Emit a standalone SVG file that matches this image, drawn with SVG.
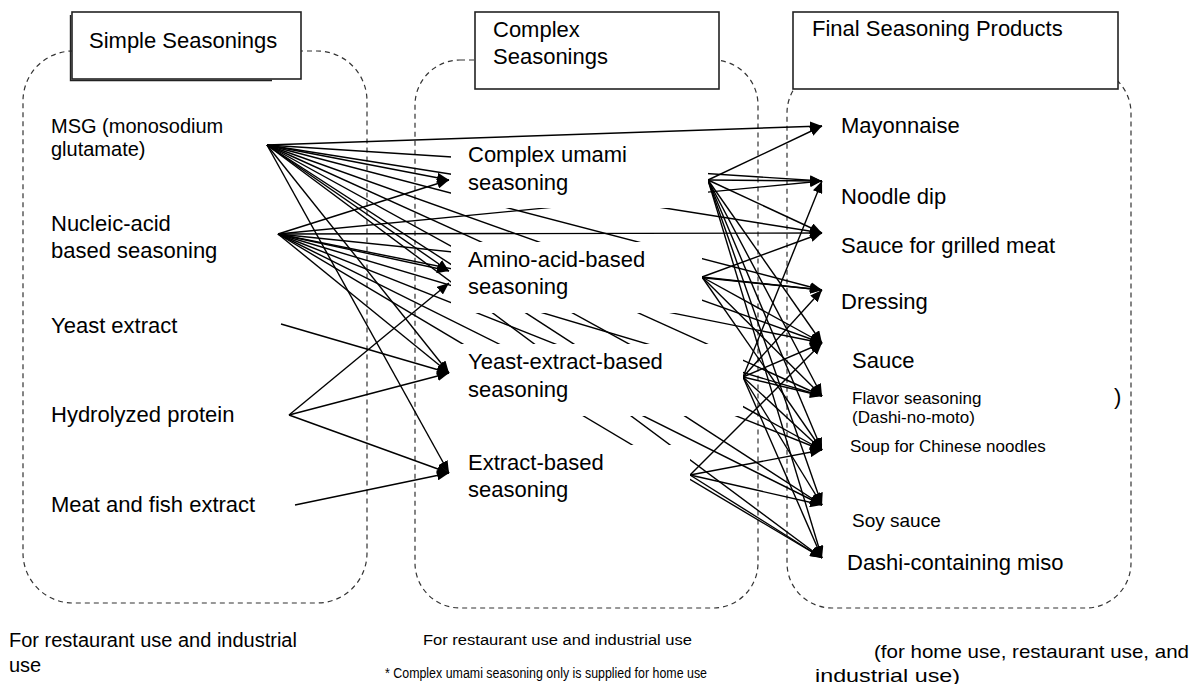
<svg xmlns="http://www.w3.org/2000/svg" width="1199" height="684" viewBox="0 0 1199 684">
<style>
text{font-family:"Liberation Sans",Arial,sans-serif;fill:#000}
.l22{font-size:22px}
.l20{font-size:20px}
.l19{font-size:19px}
.l17{font-size:17px}
.cont{fill:none;stroke:#333;stroke-width:1.2;stroke-dasharray:5 4}
.hdr{fill:#fff;stroke:#222;stroke-width:1.6}
.occ{fill:#fff;stroke:none}
#connectors line{stroke:#000;stroke-width:1.4;marker-end:url(#ah)}
</style>
<defs>
<marker id="ah" viewBox="0 0 12 10" refX="12" refY="5" markerWidth="12" markerHeight="10" markerUnits="userSpaceOnUse" orient="auto"><path d="M0,0 L12,5 L0,10 z" fill="#000"/></marker>
</defs>
<rect width="1199" height="684" fill="#fff"/>
<g id="containers">
<rect class="cont" x="23" y="51" width="344" height="552" rx="50"/>
<rect class="cont" x="415" y="60" width="343" height="548" rx="45"/>
<rect class="cont" x="787" y="68" width="344" height="540" rx="45"/>
</g>
<g id="headers">
<g id="hdr-simple"><rect class="hdr" x="72" y="12" width="229" height="67"/><path d="M70.5,15 V80.5 H272" fill="none" stroke="#222" stroke-width="1.4"/><text class="l22" x="89" y="48">Simple Seasonings</text></g>
<g id="hdr-complex"><rect class="hdr" x="475" y="12" width="244" height="77"/><text class="l22" x="493" y="37">Complex</text><text class="l22" x="493" y="64">Seasonings</text></g>
<g id="hdr-final"><rect class="hdr" x="793" y="12" width="325" height="77"/><text class="l22" x="812" y="36">Final Seasoning Products</text></g>
</g>
<g id="connectors">
<!-- MSG -->
<line x1="267" y1="145" x2="822" y2="126"/>
<line x1="267" y1="145" x2="822" y2="181"/>
<line x1="267" y1="145" x2="449" y2="180"/>
<line x1="267" y1="145" x2="822" y2="233"/>
<line x1="267" y1="145" x2="822" y2="290"/>
<line x1="267" y1="145" x2="822" y2="343"/>
<line x1="267" y1="145" x2="822" y2="396"/>
<line x1="267" y1="145" x2="822" y2="450"/>
<line x1="267" y1="145" x2="822" y2="505"/>
<line x1="267" y1="145" x2="822" y2="558"/>
<line x1="267" y1="145" x2="449" y2="271"/>
<line x1="267" y1="145" x2="449" y2="373"/>
<line x1="267" y1="145" x2="449" y2="473"/>
<!-- Nucleic -->
<line x1="278" y1="234" x2="449" y2="180"/>
<line x1="278" y1="234" x2="822" y2="181"/>
<line x1="278" y1="234" x2="822" y2="233"/>
<line x1="278" y1="234" x2="449" y2="271"/>
<line x1="278" y1="234" x2="822" y2="290"/>
<line x1="278" y1="234" x2="822" y2="343"/>
<line x1="278" y1="234" x2="822" y2="396"/>
<line x1="278" y1="234" x2="822" y2="450"/>
<line x1="278" y1="234" x2="822" y2="505"/>
<line x1="278" y1="234" x2="822" y2="558"/>
<line x1="278" y1="234" x2="449" y2="373"/>
<!-- Yeast extract / Hydrolyzed / Meat -->
<line x1="281" y1="324" x2="449" y2="373"/>
<line x1="289" y1="415" x2="449" y2="283"/>
<line x1="289" y1="415" x2="449" y2="373"/>
<line x1="289" y1="415" x2="449" y2="473"/>
<line x1="295" y1="505" x2="449" y2="473"/>
<!-- Complex umami -->
<line x1="708" y1="180" x2="822" y2="126"/>
<line x1="708" y1="180" x2="822" y2="181"/>
<line x1="708" y1="180" x2="822" y2="233"/>
<line x1="708" y1="180" x2="822" y2="343"/>
<line x1="708" y1="180" x2="822" y2="396"/>
<line x1="708" y1="180" x2="822" y2="450"/>
<line x1="708" y1="180" x2="822" y2="505"/>
<line x1="708" y1="180" x2="822" y2="558"/>
<!-- Amino -->
<line x1="702" y1="277" x2="822" y2="233"/>
<line x1="702" y1="277" x2="822" y2="290"/>
<line x1="702" y1="277" x2="822" y2="343"/>
<line x1="702" y1="277" x2="822" y2="396"/>
<line x1="702" y1="277" x2="822" y2="450"/>
<!-- Yeast-extract-based -->
<line x1="743" y1="377" x2="822" y2="181"/>
<line x1="743" y1="377" x2="822" y2="290"/>
<line x1="743" y1="377" x2="822" y2="343"/>
<line x1="743" y1="377" x2="822" y2="396"/>
<line x1="743" y1="377" x2="822" y2="450"/>
<line x1="743" y1="377" x2="822" y2="505"/>
<line x1="743" y1="377" x2="822" y2="558"/>
<!-- Extract-based -->
<line x1="690" y1="475" x2="822" y2="343"/>
<line x1="690" y1="475" x2="822" y2="450"/>
<line x1="690" y1="475" x2="822" y2="505"/>
<line x1="690" y1="475" x2="822" y2="558"/>
</g>
<g id="simple-nodes">
<g id="n-msg"><text class="l20" x="51" y="133">MSG (monosodium</text><text class="l20" x="51" y="156">glutamate)</text></g>
<g id="n-nucleic"><text class="l22" x="51" y="231">Nucleic-acid</text><text class="l22" x="51" y="258">based seasoning</text></g>
<g id="n-yeast"><text class="l22" x="51" y="333">Yeast extract</text></g>
<g id="n-hydro"><text class="l22" x="51" y="422">Hydrolyzed protein</text></g>
<g id="n-meat"><text class="l22" x="51" y="512">Meat and fish extract</text></g>
</g>
<g id="complex-nodes">
<g id="n-cu"><rect class="occ" x="451" y="141" width="257" height="67"/><text class="l22" x="468" y="162">Complex umami</text><text class="l22" x="468" y="190">seasoning</text></g>
<g id="n-amino"><rect class="occ" x="451" y="242" width="251" height="71"/><text class="l22" x="468" y="267">Amino-acid-based</text><text class="l22" x="468" y="294">seasoning</text></g>
<g id="n-yeb"><rect class="occ" x="451" y="344" width="292" height="72"/><text class="l22" x="468" y="369">Yeast-extract-based</text><text class="l22" x="468" y="397">seasoning</text></g>
<g id="n-exb"><rect class="occ" x="451" y="445" width="239" height="80"/><text class="l22" x="468" y="470">Extract-based</text><text class="l22" x="468" y="497">seasoning</text></g>
</g>
<g id="final-nodes">
<g id="n-mayo"><text class="l22" x="841" y="133">Mayonnaise</text></g>
<g id="n-noodle"><text class="l22" x="841" y="204">Noodle dip</text></g>
<g id="n-sgm"><text class="l22" x="841" y="253">Sauce for grilled meat</text></g>
<g id="n-dressing"><text class="l22" x="841" y="309">Dressing</text></g>
<g id="n-sauce"><text class="l22" x="852" y="368">Sauce</text></g>
<g id="n-flavor"><text class="l17" x="852" y="404">Flavor seasoning</text><text class="l17" x="852" y="423">(Dashi-no-moto)</text><text class="l22" x="1114" y="404">)</text></g>
<g id="n-soup"><text class="l17" x="850" y="452">Soup for Chinese noodles</text></g>
<g id="n-soy"><text class="l19" x="852" y="527">Soy sauce</text></g>
<g id="n-miso"><text class="l22" x="847" y="570">Dashi-containing miso</text></g>
</g>
<g id="notes">
<text class="l20" x="9" y="647">For restaurant use and industrial</text>
<text class="l20" x="9" y="672">use</text>
<text x="423" y="645" font-size="14" textLength="269" lengthAdjust="spacingAndGlyphs">For restaurant use and industrial use</text>
<text x="385" y="678" font-size="14" textLength="322" lengthAdjust="spacingAndGlyphs">* Complex umami seasoning only is supplied for home use</text>
<text x="874" y="658" font-size="19" textLength="315" lengthAdjust="spacingAndGlyphs">(for home use, restaurant use, and</text>
<text x="815" y="682" font-size="19" textLength="145" lengthAdjust="spacingAndGlyphs">industrial use)</text>
</g>
</svg>
